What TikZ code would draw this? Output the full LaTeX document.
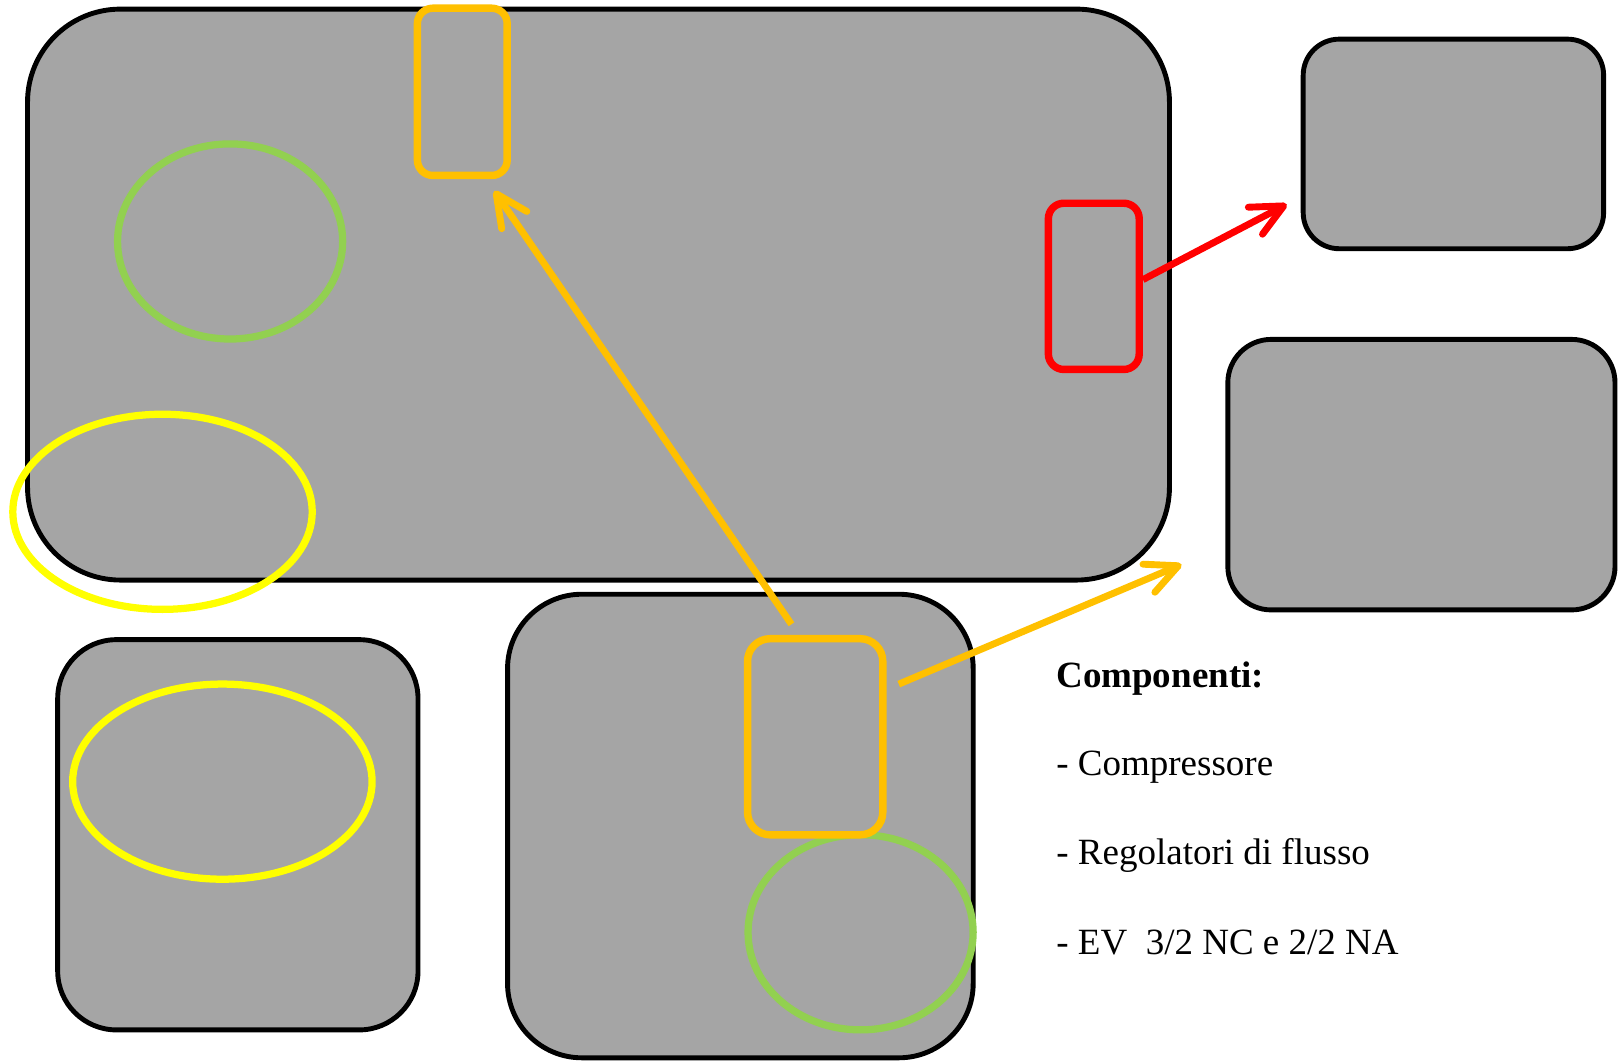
\documentclass[tikz,border=0pt]{standalone}
\usepackage{fontspec}
\setmainfont{Liberation Serif}
\usetikzlibrary{arrows.meta,shapes.geometric}

\definecolor{panelgray}{HTML}{A5A5A5}
\definecolor{amber}{HTML}{FFC000}
\definecolor{leaf}{HTML}{92D050}
\definecolor{lemon}{HTML}{FFFF00}
\definecolor{alarm}{HTML}{FF0000}

\begin{document}
\begin{tikzpicture}[x=0.01cm,y=-0.01cm,
  panel/.style={rectangle,draw=black,line width=1.35pt,fill=panelgray,inner sep=0pt},
  detailbox/.style={rectangle,line width=2.05pt,inner sep=0pt,rounded corners=0.15cm},
  ring/.style={ellipse,line width=2pt,inner sep=0pt,minimum width=2.9cm,minimum height=1.89cm},
  pointer/.style={line width=1.9pt,-{Straight Barb[length=8.8pt,width=8.4pt,round]}},
  legend/.style={anchor=base west,inner sep=0pt,font=\fontsize{10.2pt}{12pt}\selectfont}]

\useasboundingbox (0,0) rectangle (1568,1028);

% main unit with its marked parts
\node[panel,minimum width=11.06cm,minimum height=5.53cm,rounded corners=0.9cm] (main) at (580,285.5) {};
\node[ring,draw=leaf,minimum width=2.18cm,minimum height=1.89cm] (gaugeA) at (223,234) {};
\node[detailbox,draw=amber,minimum width=0.87cm,minimum height=1.62cm] (valveA) at (448,89) {};
\node[detailbox,draw=alarm,minimum width=0.88cm,minimum height=1.61cm] (valveR) at (1060,277.5) {};
\node[ring,draw=lemon] (tankA) at (157.5,496) {};

% detail panels on the right
\node[panel,minimum width=2.91cm,minimum height=2.03cm,rounded corners=0.35cm] (detailTop) at (1408.5,139.5) {};
\node[panel,minimum width=3.75cm,minimum height=2.62cm,rounded corners=0.42cm] (detailMid) at (1377.5,460) {};

% lower panels
\node[panel,minimum width=3.49cm,minimum height=3.78cm,rounded corners=0.57cm] (lowLeft) at (230.5,809) {};
\node[ring,draw=lemon] (tankB) at (215.5,757.5) {};
\node[panel,minimum width=4.51cm,minimum height=4.49cm,rounded corners=0.72cm] (lowMid) at (717.5,800.5) {};
\node[ring,draw=leaf,minimum width=2.18cm,minimum height=1.89cm] (gaugeB) at (834,903.5) {};
\node[detailbox,draw=amber,minimum width=1.31cm,minimum height=1.90cm,rounded corners=0.22cm] (valveB) at (790,714) {};

% connector ends
\coordinate (upStart) at (767,605);
\coordinate (upEnd) at (479,185);
\coordinate (redEnd) at (1247,198);
\coordinate (sideStart) at (871,663);
\coordinate (sideEnd) at (1145,547);

\draw[pointer,draw=amber] (upStart) -- (upEnd);
\draw[pointer,draw=alarm] ([yshift=0.065cm]valveR.east) -- (redEnd);
\draw[pointer,draw=amber] (sideStart) -- (sideEnd);

% component list
\node[legend,font=\fontsize{10.2pt}{12pt}\selectfont\bfseries] (title) at (1023,666) {Componenti:};
\node[legend] (item1) at (1023,752) {- Compressore};
\node[legend] (item2) at (1023,838) {- Regolatori di flusso};
\node[legend] (item3) at (1023,925) {- EV\ \ 3/2 NC e 2/2 NA};

\end{tikzpicture}
\end{document}
